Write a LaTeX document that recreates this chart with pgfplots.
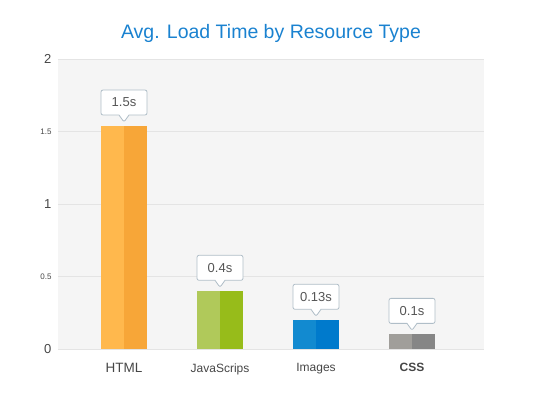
\documentclass[border=0pt]{standalone}
\usepackage{pgfplots}
\pgfplotsset{compat=1.18}
\usepackage{pgfplotstable}
\usepackage{fontspec}
\setmainfont{Liberation Sans}
\usetikzlibrary{shapes.callouts}
\definecolor{htmlA}{RGB}{255,184,77}
\definecolor{htmlB}{RGB}{247,166,56}
\definecolor{jsA}{RGB}{176,201,90}
\definecolor{jsB}{RGB}{151,188,26}
\definecolor{imgA}{RGB}{18,138,208}
\definecolor{imgB}{RGB}{0,122,204}
\definecolor{cssA}{RGB}{160,158,154}
\definecolor{cssB}{RGB}{134,134,134}
\definecolor{titleblue}{RGB}{26,130,208}
\definecolor{bggray}{RGB}{245,245,245}
\definecolor{gridgray}{RGB}{228,228,228}
\definecolor{tickgray}{RGB}{70,70,70}
\definecolor{labelgray}{RGB}{85,85,85}
\definecolor{calloutborder}{RGB}{176,190,200}

\pgfplotstableread{
x y label
0 1.54 1.5s
1 0.40 0.4s
2 0.20 0.13s
3 0.103 0.1s
}\labeltable

\begin{document}
\begin{tikzpicture}
\useasboundingbox (0,0) rectangle (544pt,392pt);
\node[font=\fontsize{19.5}{19.5}\selectfont, text=titleblue] at (271pt,359pt) {Avg. Load Time by Resource Type};
\begin{axis}[
  at={(58pt,43pt)}, anchor=south west,
  scale only axis, width=426pt, height=290pt,
  xmin=-0.6875, xmax=3.75, ymin=0, ymax=2,
  clip=false,
  axis background/.style={fill=bggray},
  axis line style={draw=none},
  major tick length=0pt,
  ytick={0,0.5,1,1.5,2},
  yticklabels={0,{\fontsize{8}{8}\selectfont 0.5},1,{\fontsize{8}{8}\selectfont 1.5},2},
  yticklabel style={font=\fontsize{13}{13}\selectfont, text=tickgray, xshift=-3pt},
  ymajorgrids, grid style={draw=gridgray, line width=0.8pt},
  xtick={0,1,2,3},
  xticklabels={{\fontsize{13.5}{14}\selectfont HTML},JavaScrips,Images,{\bfseries CSS}},
  xticklabel style={font=\fontsize{12}{12}\selectfont, text=tickgray, yshift=-11pt},
]
\addplot[ybar, bar width=23pt, bar shift=-11.5pt, fill=htmlA, draw=none] coordinates {(0,1.54)};
\addplot[ybar, bar width=23pt, bar shift=11.5pt, fill=htmlB, draw=none] coordinates {(0,1.54)};
\addplot[ybar, bar width=23pt, bar shift=-11.5pt, fill=jsA, draw=none] coordinates {(1,0.40)};
\addplot[ybar, bar width=23pt, bar shift=11.5pt, fill=jsB, draw=none] coordinates {(1,0.40)};
\addplot[ybar, bar width=23pt, bar shift=-11.5pt, fill=imgA, draw=none] coordinates {(2,0.20)};
\addplot[ybar, bar width=23pt, bar shift=11.5pt, fill=imgB, draw=none] coordinates {(2,0.20)};
\addplot[ybar, bar width=23pt, bar shift=-11.5pt, fill=cssA, draw=none] coordinates {(3,0.103)};
\addplot[ybar, bar width=23pt, bar shift=11.5pt, fill=cssB, draw=none] coordinates {(3,0.103)};
\addplot[draw=none, mark=none, nodes near coords, point meta=explicit symbolic,
  every node near coord/.style={rectangle callout, draw=calloutborder, fill=white,
    rounded corners=2pt, minimum width=46pt, minimum height=25pt, inner sep=0pt,
    text=labelgray, font=\fontsize{13}{13}\selectfont,
    callout relative pointer={(0pt,-7pt)}, callout pointer width=10pt,
    anchor=pointer, yshift=3pt, line width=0.8pt}
] table[x=x, y=y, meta=label] {\labeltable};
\end{axis}
\end{tikzpicture}
\end{document}
